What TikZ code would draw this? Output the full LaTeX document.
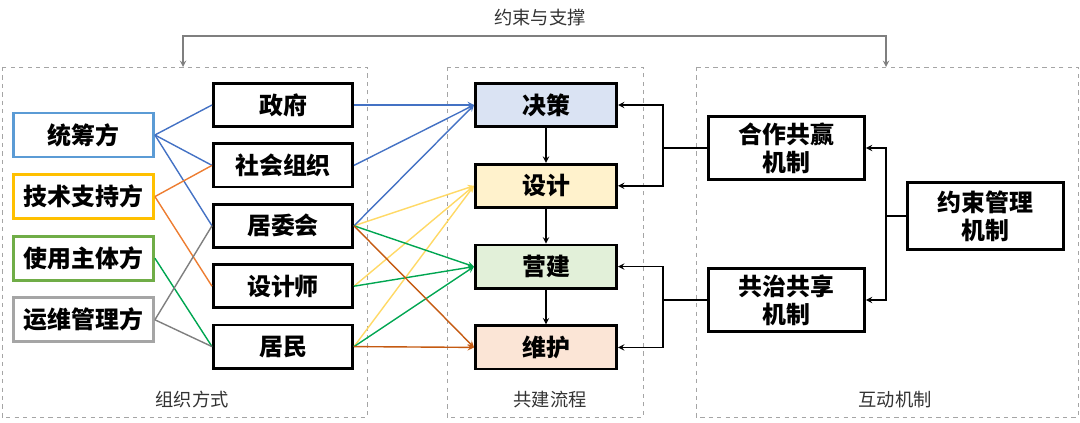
\documentclass[tikz,border=0pt]{standalone}
\usepackage{fontspec}
\setmainfont{Noto Sans CJK SC}
\usetikzlibrary{arrows, positioning}
\definecolor{bdblue}{HTML}{5B9BD5}
\definecolor{bdgold}{HTML}{FFC000}
\definecolor{bdgreen}{HTML}{70AD47}
\definecolor{bdgray}{HTML}{A5A5A5}
\definecolor{lnblue}{HTML}{4472C4}
\definecolor{lnorange}{HTML}{ED7D31}
\definecolor{lnbrown}{HTML}{C55A11}
\definecolor{lnyellow}{HTML}{FFD966}
\definecolor{lngreen}{HTML}{00A651}
\definecolor{lngray}{HTML}{7F7F7F}
\definecolor{fblue}{HTML}{DAE3F3}
\definecolor{fyellow}{HTML}{FFF2CC}
\definecolor{fgreen}{HTML}{E2F0D9}
\definecolor{forange}{HTML}{FBE5D6}
\tikzset{
  party/.style={
    rectangle,
    minimum width=3.5cm,
    minimum height=1.1cm,
    align=center,
    line width=2pt,
    font=\fontsize{17}{19}\selectfont\bfseries,
    fill=white
    },
  actor/.style={
    rectangle,
    minimum width=3.48cm,
    minimum height=1.08cm,
    align=center,
    draw=black,
    line width=2pt,
    font=\fontsize{17}{19}\selectfont\bfseries
    },
  stage/.style={
    rectangle,
    minimum width=3.53cm,
    minimum height=1.08cm,
    align=center,
    draw=black,
    line width=2pt,
    font=\fontsize{17}{19}\selectfont\bfseries
    },
  mech/.style={
    rectangle,
    minimum width=3.9cm,
    minimum height=1.58cm,
    align=center,
    draw=black,
    line width=2pt,
    font=\fontsize{17}{20}\selectfont\bfseries
    },
  grp/.style={draw=bdgray, dashed, line width=0.6pt},
  grplabel/.style={font=\fontsize{13}{15}\selectfont, text=black!80},
  link/.style={line width=1pt},
  arrow/.style={line width=1pt,->,>=stealth},
  toparrow/.style={draw=lngray, line width=1pt,<->,>=stealth}
}
\begin{document}
\begin{tikzpicture}[node distance=1cm]
\useasboundingbox (0,0) rectangle (27,-10.575);
% groups
\draw[grp] (0.05,-1.675) rectangle (9.175,-10.425);
\draw[grp] (11.175,-1.675) rectangle (16.075,-10.425);
\draw[grp] (17.4,-1.675) rectangle (26.95,-10.425);
\node (lbl1) [grplabel] at (4.8,-10.0) {组织方式};
\node (lbl2) [grplabel] at (13.75,-10.0) {共建流程};
\node (lbl3) [grplabel] at (22.375,-10.0) {互动机制};
% top
\node (title) [grplabel] at (13.5,-0.45) {约束与支撑};
\coordinate (ta) at (4.575,-1.675);
\coordinate (tb) at (22.15,-1.675);
\coordinate (tt) at (13.5,-0.9);
\draw[toparrow] (ta) -- (ta |- tt) -- (tb |- tt) -- (tb);
% parties
\node (tc) [party,draw=bdblue] at (2.0875,-3.375) {统筹方};
\node (js) [party,draw=bdgold,below of=tc, yshift=-0.54cm] {技术支持方};
\node (sy) [party,draw=bdgreen,below of=js, yshift=-0.54cm] {使用主体方};
\node (yw) [party,draw=bdgray,below of=sy, yshift=-0.54cm] {运维管理方};
% actors
\node (zf) [actor] at (7.075,-2.625) {政府};
\node (sh) [actor,below of=zf, yshift=-0.51cm] {社会组织};
\node (jw) [actor,below of=sh, yshift=-0.51cm] {居委会};
\node (sjs) [actor,below of=jw, yshift=-0.51cm] {设计师};
\node (jm) [actor,below of=sjs, yshift=-0.51cm] {居民};
% stages
\node (jc) [stage,fill=fblue] at (13.65,-2.625) {决策};
\node (sj) [stage,fill=fyellow,below of=jc, yshift=-1.02cm] {设计};
\node (yj) [stage,fill=fgreen,below of=sj, yshift=-1.02cm] {营建};
\node (wh) [stage,fill=forange,below of=yj, yshift=-1.02cm] {维护};
% mechanisms
\node (hz) [mech] at (19.6625,-3.7) {合作共赢\\机制};
\node (gz) [mech] at (19.6625,-7.5) {共治共享\\机制};
\node (ys) [mech,minimum height=1.68cm] at (24.6375,-5.4) {约束管理\\机制};
% parties -> actors
\draw[link,lnblue] (tc.east) -- (zf.west);
\draw[link,lnblue] (tc.east) -- (sh.west);
\draw[link,lnblue] (tc.east) -- (jw.west);
\draw[link,lnorange] (js.east) -- (sh.west);
\draw[link,lnorange] (js.east) -- (sjs.west);
\draw[link,lngreen] (sy.east) -- (jm.west);
\draw[link,lngray] (yw.east) -- (jw.west);
\draw[link,lngray] (yw.east) -- (jm.west);
% actors -> stages
\draw[arrow,lnyellow] (jw.east) -- (sj.west);
\draw[arrow,lnyellow] (sjs.east) -- (sj.west);
\draw[arrow,lnyellow] (jm.east) -- (sj.west);
\draw[arrow,lnblue] (zf.east) -- (jc.west);
\draw[arrow,lnblue] (sh.east) -- (jc.west);
\draw[arrow,lnblue] (jw.east) -- (jc.west);
\draw[arrow,lngreen] (jw.east) -- (yj.west);
\draw[arrow,lngreen] (sjs.east) -- (yj.west);
\draw[arrow,lngreen] (jm.east) -- (yj.west);
\draw[arrow,lnbrown] (jw.east) -- (wh.west);
\draw[arrow,lnbrown] (jm.east) -- (wh.west);
% process flow
\draw[arrow] (jc) -- (sj);
\draw[arrow] (sj) -- (yj);
\draw[arrow] (yj) -- (wh);
% mechanisms -> stages
\coordinate (b1) at (16.575,-3.7);
\coordinate (b2) at (16.575,-7.5);
\coordinate (b3) at (22.15,-5.4);
\draw[link] (hz.west) -- (b1);
\draw[arrow] (b1) |- (jc.east);
\draw[arrow] (b1) |- (sj.east);
\draw[link] (gz.west) -- (b2);
\draw[arrow] (b2) |- (yj.east);
\draw[arrow] (b2) |- (wh.east);
\draw[link] (ys.west) -- (b3);
\draw[arrow] (b3) |- (hz.east);
\draw[arrow] (b3) |- (gz.east);
\end{tikzpicture}
\end{document}
